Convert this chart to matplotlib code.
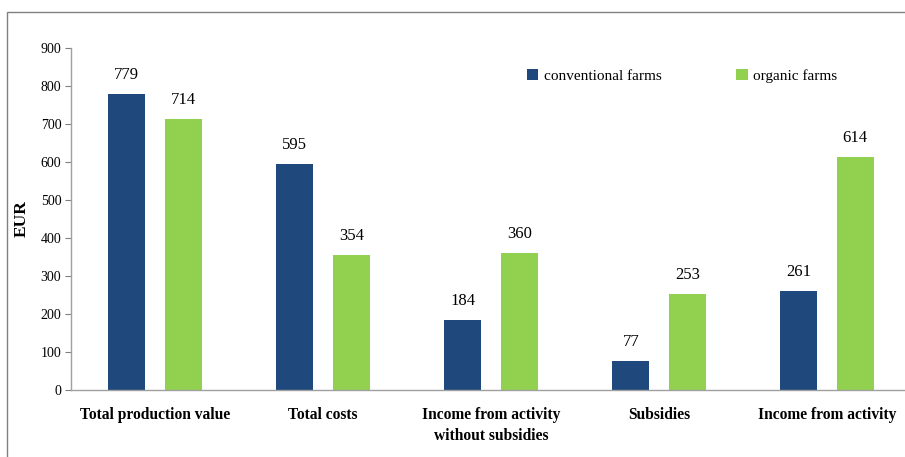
import matplotlib
matplotlib.use("Agg")
import matplotlib.pyplot as plt
from matplotlib.patches import Rectangle
import numpy as np

categories = ["Total production value", "Total costs", "Income from activity\nwithout subsidies",
              "Subsidies", "Income from activity"]
conventional = [779, 595, 184, 77, 261]
organic = [714, 354, 360, 253, 614]
series_names = ["conventional farms", "organic farms"]
yticks = [0, 100, 200, 300, 400, 500, 600, 700, 800, 900]

c_conv = "#1F497D"
c_org = "#92D050"
plt.rcParams['font.family'] = ['Liberation Serif', 'DejaVu Serif']

W, H = 905, 457
fig = plt.figure(figsize=(W/100, H/100), dpi=100)
# outer border
fig.patches.append(Rectangle((7/W, -0.1), 1.2, 1 - 12/H + 0.1, transform=fig.transFigure,
                             fill=False, edgecolor="#808080", linewidth=1.0))

ax = fig.add_axes([71/W, 1 - 390/H, (911 - 71)/W, (390 - 48)/H])
x = np.arange(len(categories))
bw = 0.22
off = 0.168
b1 = ax.bar(x - off, conventional, bw, color=c_conv, label=series_names[0], zorder=2)
b2 = ax.bar(x + off, organic, bw, color=c_org, label=series_names[1], zorder=2)

for bars, vals in ((b1, conventional), (b2, organic)):
    for r, v in zip(bars, vals):
        ax.annotate(str(v), (r.get_x() + r.get_width()/2, v), xytext=(0, 8),
                    textcoords="offset points", ha="center", va="bottom", fontsize=12)

ax.set_xlim(-0.5, len(categories) - 0.5)
ax.set_ylim(0, 900)
ax.set_yticks(yticks)
ax.set_yticklabels([str(t) for t in yticks], fontsize=10)
ax.set_xticks(x)
ax.set_xticklabels(categories, fontsize=11.2, fontweight="bold", linespacing=1.45)
ax.tick_params(axis="x", length=0, pad=12)
ax.tick_params(axis="y", length=4, color="#808080", width=0.8, pad=3)
for s in ("top", "right"):
    ax.spines[s].set_visible(False)
for s in ("left", "bottom"):
    ax.spines[s].set_color("#a0a0a0")
    ax.spines[s].set_linewidth(1.0)

ax.set_ylabel("EUR", fontsize=12.5, fontweight="bold", labelpad=8)

ax.legend(loc="upper left", bbox_to_anchor=(527/W, 1 - 69/H), bbox_transform=fig.transFigure,
          ncol=2, frameon=False, fontsize=11, handlelength=0.75, handleheight=0.75,
          handletextpad=0.35, columnspacing=4.9, borderaxespad=0, borderpad=0)

fig.savefig("out.png", dpi=100)
